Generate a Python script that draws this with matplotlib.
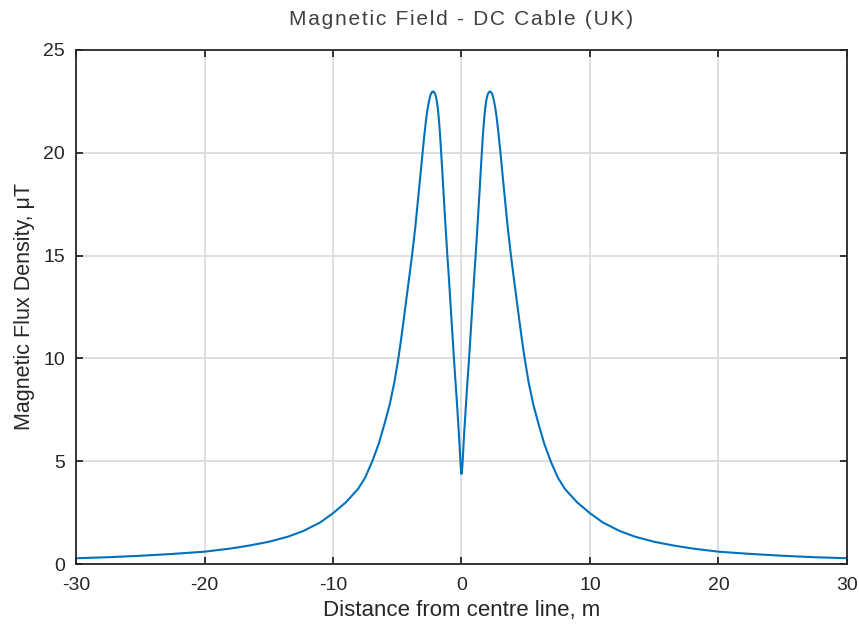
import numpy as np
import matplotlib
matplotlib.use("Agg")
import matplotlib.pyplot as plt

# right half of the profile (distance m, flux density uT)
dist_right = [0.00, 0.015, 0.03, 0.06, 0.10, 0.15, 0.20, 0.27, 0.35, 0.45, 0.60,
              0.70, 0.82, 0.91, 1.00, 1.10, 1.20, 1.30, 1.39, 1.48, 1.57,
              1.67, 1.77, 1.85, 1.93, 2.02, 2.10, 2.20, 2.27, 2.35, 2.42,
              2.48, 2.55, 2.65, 2.74, 2.85, 2.95, 3.05, 3.20, 3.39, 3.60,
              3.85, 4.05, 4.25, 4.42, 4.65, 4.89, 5.22, 5.59, 6.00, 6.44,
              6.94, 7.50, 8.05, 9.00, 10.0, 11.0, 12.33, 13.5, 15.0, 16.5,
              18.0, 20.0, 22.5, 25.0, 27.5, 30.0]
flux_right = [4.38, 4.41, 4.49, 4.72, 5.10, 5.70, 6.30, 7.00, 7.80, 8.75, 10.1,
              11.1, 12.3, 13.2, 14.1, 15.0, 16.0, 17.0, 17.95, 18.95, 19.9,
              20.9, 21.7, 22.2, 22.55, 22.8, 22.92, 22.98, 22.97, 22.9, 22.8,
              22.65, 22.45, 22.1, 21.7, 21.1, 20.5, 19.9, 18.9, 17.7, 16.35,
              15.0, 14.0, 13.05, 12.25, 11.15, 10.1, 8.85, 7.75, 6.80, 5.85,
              5.00, 4.20, 3.65, 3.00, 2.47, 2.02, 1.60, 1.33, 1.08, 0.90,
              0.75, 0.60, 0.49, 0.40, 0.33, 0.28]

# the field profile is symmetric about the centre line
dist = np.concatenate([-np.array(dist_right[:0:-1]), dist_right])
flux = np.concatenate([flux_right[:0:-1], flux_right])

xticks = [-30, -20, -10, 0, 10, 20, 30]
xlabels = ['-30', '-20', '-10', '0', '10', '20', '30']
yticks = [0, 5, 10, 15, 20, 25]

plt.rcParams['font.family'] = ['Liberation Sans', 'DejaVu Sans']

fig = plt.figure(figsize=(8.59, 6.28), dpi=100)
ax = fig.add_axes([0.0885, 0.1019, 0.8975, 0.8185])

ax.plot(dist, flux, color='#0072BD', linewidth=1.5)

ax.set_xlim(-30, 30)
ax.set_ylim(0, 25)
ax.set_xticks(xticks)
ax.set_xticklabels(xlabels)
ax.set_yticks(yticks)
ax.grid(True, color='#dcdcdc', linewidth=1.3)
ax.set_axisbelow(True)
ax.tick_params(direction='in', top=True, right=True, length=5, width=1.3,
               colors='#262626', labelsize=14)
ax.tick_params(axis='x', pad=9)
ax.tick_params(axis='y', pad=8)
for s in ax.spines.values():
    s.set_color('#262626')
    s.set_linewidth(1.3)

ax.set_xlabel("Distance from centre line, m", fontsize=16, color='#262626', labelpad=5)
ax.set_ylabel("Magnetic Flux Density, \u03bcT", fontsize=15.5, color='#262626', labelpad=6)
title = "\u200a".join("Magnetic Field - DC Cable (UK)")
ax.set_title(title, fontsize=15, color='#404040', pad=18)

fig.savefig("out.png", dpi=100)
